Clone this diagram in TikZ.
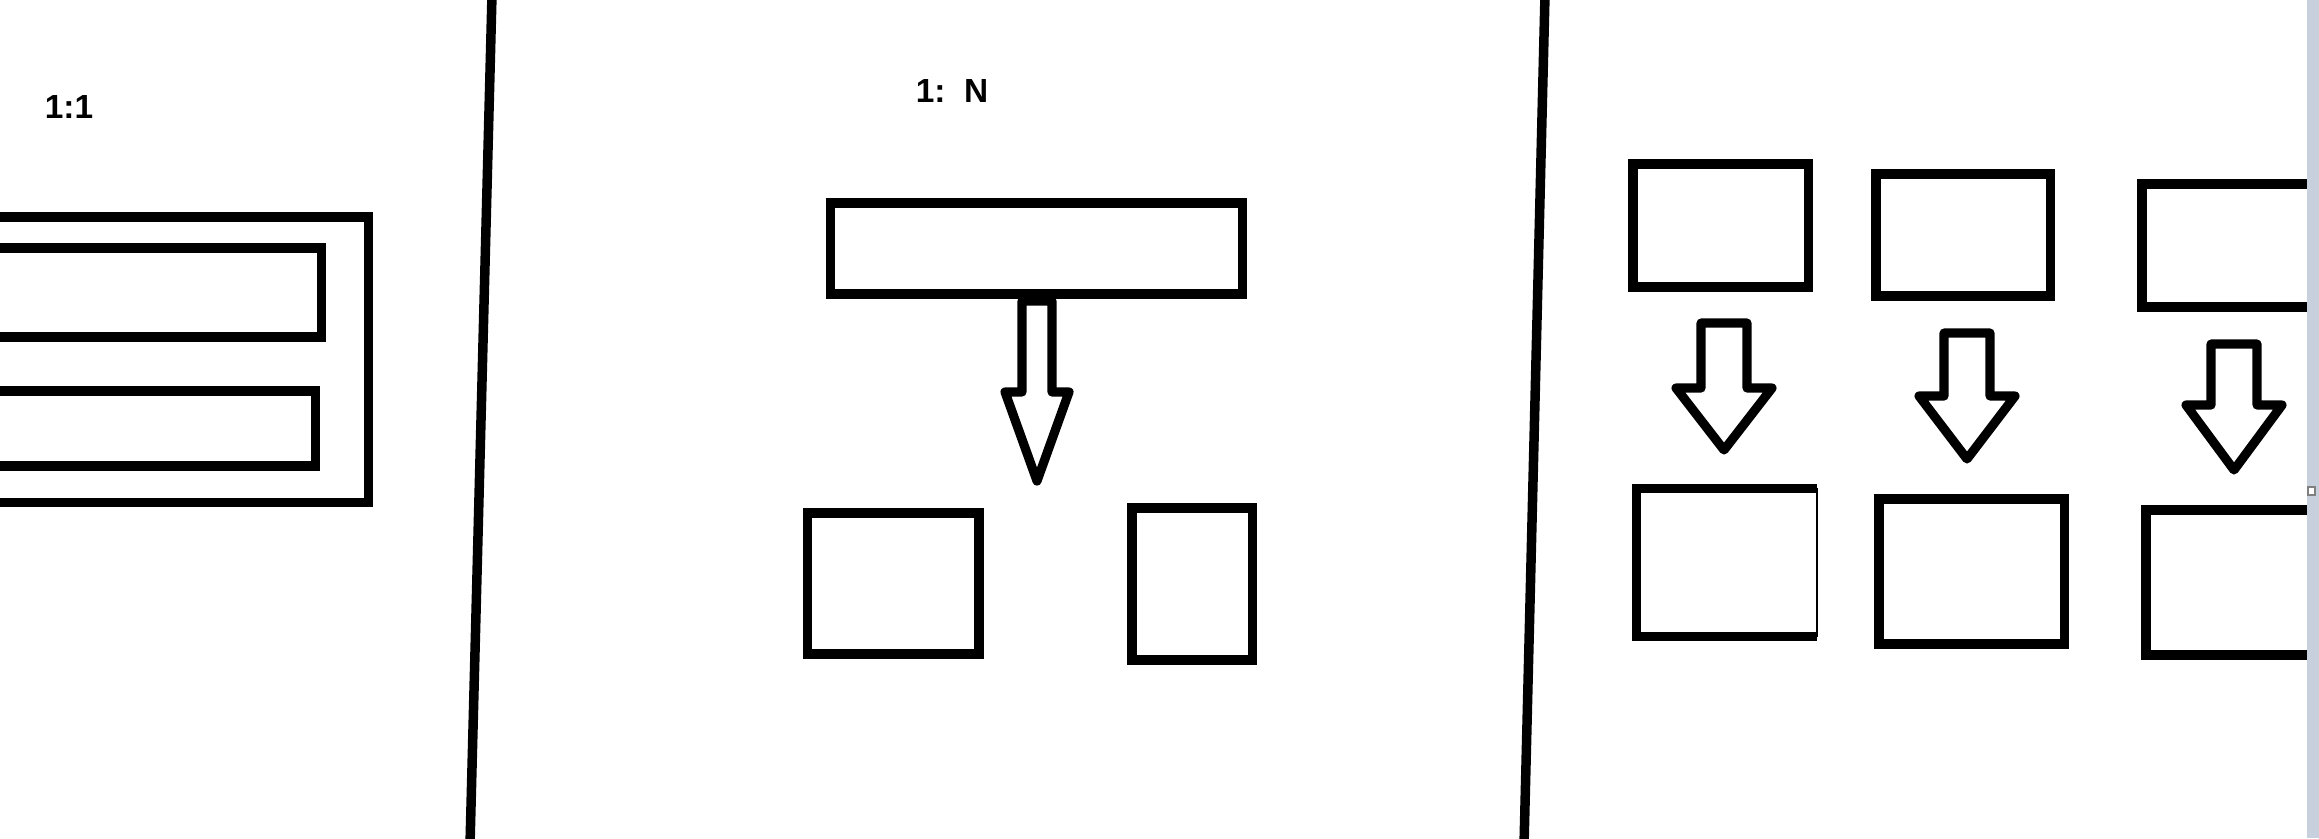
\documentclass[tikz,border=0pt]{standalone}
\usepackage{fontspec}
\setmainfont{Liberation Sans}
\definecolor{randgrau}{RGB}{200,208,222}

\begin{document}
\begin{tikzpicture}[x=0.01cm, y=-0.01cm,
    kasten/.style={draw, line width=2.6pt, inner sep=0pt, outer sep=0pt},
    blockpfeil/.style={draw, line width=2.6pt, line join=round},
    trenner/.style={line width=2.7pt},
    titel/.style={font=\fontsize{9.5}{11}\selectfont\bfseries, inner sep=0pt}]
    \useasboundingbox (0,0) rectangle (2319,838);
    \clip (0,0) rectangle (2319,838);

    % Trennlinien
    \draw[trenner] (492,-5) -- (470,845);
    \draw[trenner] (1545,-5) -- (1524,845);

    % 1:1
    \node[titel] (t1) at (69,107) {1:1};
    \node[kasten, minimum width=4.28cm, minimum height=2.85cm] (aussen) at (154,359.5) {};
    \node[kasten, minimum width=3.81cm, minimum height=0.89cm] (innen1) at (130.5,292.5) {};
    \node[kasten, minimum width=3.75cm, minimum height=0.75cm] (innen2) at (127.5,428.5) {};

    % 1:N
    \node[titel] (t2) at (952,91) {1:\ \ N};
    \node[kasten, minimum width=4.11cm, minimum height=0.91cm] (quelle) at (1036.5,248.5) {};
    \draw[blockpfeil] (1022,301) -- (1052,301) -- (1052,392) -- (1069,392) -- (1037,481)
        -- (1005,392) -- (1022,392) -- cycle;
    \node[kasten, minimum width=1.715cm, minimum height=1.41cm] (ziel1) at (893.25,583.5) {};
    \node[kasten, minimum width=1.205cm, minimum height=1.52cm] (ziel2) at (1192.25,584) {};

    % N:N
    \node[kasten, minimum width=1.75cm, minimum height=1.23cm] (a1) at (1720.5,225.5) {};
    \node[kasten, minimum width=1.74cm, minimum height=1.22cm] (a2) at (1963,235) {};
    \node[kasten, minimum width=1.88cm, minimum height=1.23cm] (a3) at (2236,245.5) {};

    \foreach \xm/\yo/\ys/\yt in {1724/323/388/450, 1967/333/396/459, 2234/344/405/470}
    \draw[blockpfeil] (\xm-23,\yo) -- (\xm+23,\yo) -- (\xm+23,\ys) -- (\xm+48,\ys) -- (\xm,\yt)
        -- (\xm-48,\ys) -- (\xm-23,\ys) -- cycle;

    \node[minimum width=1.79cm, minimum height=1.47cm, inner sep=0pt] (b1) at (1726.5,562.5) {};
    \draw[line width=2.6pt] (b1.north east) -- (b1.north west) -- (b1.south west) -- (b1.south east);
    \draw[line width=0.5pt] (b1.north east) -- (b1.south east); % rechte Kante duenn
    \node[kasten, minimum width=1.85cm, minimum height=1.45cm] (b2) at (1971.5,571.5) {};
    \node[kasten, minimum width=1.84cm, minimum height=1.45cm] (b3) at (2238,582.5) {};

    % Fensterrand rechts
    \fill[randgrau] (2307,0) rectangle (2319,838);
    \draw[gray, line width=0.6pt, fill=white] (2308,487) rectangle (2315,495);
\end{tikzpicture}
\end{document}
